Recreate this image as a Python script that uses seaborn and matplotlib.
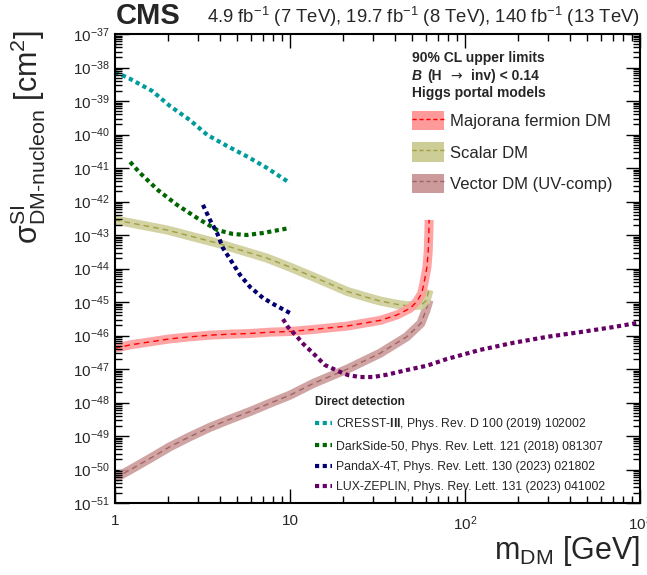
import numpy as np
import pandas as pd
import matplotlib
matplotlib.use("Agg")
import matplotlib.pyplot as plt
import seaborn as sns
from matplotlib.patches import Patch
from matplotlib.lines import Line2D

# ---- data (log10 of cross section in cm^2) ----
cresst_m = [1.0, 1.22, 1.63, 2.06, 2.68, 3.36, 4.36, 5.75, 7.39, 10.0]
cresst_xs = [-38.13, -38.34, -38.70, -39.15, -39.57, -40.01, -40.34, -40.67, -41.00, -41.45]

darkside_m = [1.22, 1.39, 1.76, 2.26, 2.94, 3.83, 4.72, 5.68, 7.01, 10.0]
darkside_xs = [-40.82, -41.15, -41.66, -42.10, -42.49, -42.85, -42.97, -43.00, -42.94, -42.79]

pandax_m = [3.18, 3.49, 3.83, 4.14, 4.66, 5.18, 5.91, 7.01, 8.21, 10.0]
pandax_xs = [-42.10, -42.55, -42.94, -43.39, -43.81, -44.19, -44.55, -44.88, -45.09, -45.33]

lz_m = [9.12, 9.74, 11.0, 11.9, 13.5, 15.8, 18.6, 21.4, 25.1, 29.8, 35.8, 46.6, 60.7,
        78.9, 122, 188, 294, 454, 701, 1000]
lz_xs = [-45.51, -45.75, -46.04, -46.25, -46.52, -46.88, -47.05, -47.18, -47.24, -47.24,
         -47.17, -47.03, -46.90, -46.70, -46.43, -46.22, -46.04, -45.90, -45.75, -45.61]

majorana_m = [1.0, 1.22, 1.585, 2.06, 2.68, 3.49, 4.54, 5.91, 7.69, 10.0, 13.6, 21.1,
              32.7, 40.7, 48.5, 53.0, 56.6, 58.3, 60.6, 61.6, 62.1, 62.4]
majorana_xs = [-46.38, -46.28, -46.19, -46.10, -46.04, -45.99, -45.96, -45.94, -45.90,
               -45.88, -45.82, -45.72, -45.55, -45.39, -45.19, -44.99, -44.74, -44.44,
               -43.96, -43.50, -43.00, -42.55]

scalar_m = [1.0, 1.98, 3.83, 7.39, 10.0, 13.6, 17.6, 21.1, 27.5, 32.7, 40.9, 46.4,
            55.9, 59.9, 62.3]
scalar_xs = [-42.55, -42.85, -43.24, -43.69, -43.96, -44.25, -44.50, -44.68, -44.86,
             -44.97, -45.07, -45.11, -45.10, -44.96, -44.64]

vector_m = [1.0, 1.22, 1.585, 2.06, 2.68, 3.49, 4.54, 5.91, 7.69, 10.0, 13.6, 21.1,
            32.7, 46.4, 55.9, 59.9, 62.3]
vector_xs = [-50.26, -50.01, -49.67, -49.32, -49.02, -48.74, -48.50, -48.27, -48.02,
             -47.78, -47.43, -47.01, -46.53, -46.04, -45.64, -45.24, -44.94]

xticks = [1, 10, 100, 1000]
xtick_labels = ["1", "10", "$10^{2}$", "$10^{3}$"]

hp_labels = ["Majorana fermion DM", "Scalar DM", "Vector DM (UV-comp)"]
dd_labels = ["CRESST-$\\mathbf{III}$, Phys. Rev. D 100 (2019) 102002",
             "DarkSide-50, Phys. Rev. Lett. 121 (2018) 081307",
             "PandaX-4T, Phys. Rev. Lett. 130 (2023) 021802",
             "LUX-ZEPLIN, Phys. Rev. Lett. 131 (2023) 041002"]

sns.set_style("ticks")
plt.rcParams['font.family'] = ['Liberation Sans', 'DejaVu Sans']
plt.rcParams['mathtext.fontset'] = 'custom'
plt.rcParams['mathtext.rm'] = 'Liberation Sans'
plt.rcParams['mathtext.it'] = 'Liberation Sans:italic'
plt.rcParams['mathtext.bf'] = 'Liberation Sans:bold'
plt.rcParams['mathtext.default'] = 'regular'

W, H = 647, 575
pos = [115 / W, 1 - 503 / H, 525 / W, 469 / H]
fig = plt.figure(figsize=(W / 100, H / 100), dpi=100)
ax = fig.add_axes(pos)
ax.set_xscale("log")
ax.set_yscale("log")

# Higgs portal bands
bands = [
    (vector_m, vector_xs, "#cc9a9a", "#a06464"),
    (scalar_m, scalar_xs, "#cdcd98", "#a0a040"),
    (majorana_m, majorana_xs, "#ff9a9a", "#ff0000"),
]
for m, xs, fc, lc in bands:
    df = pd.DataFrame({"m": m, "xs": 10.0 ** np.array(xs)})
    sns.lineplot(data=df, x="m", y="xs", ax=ax, color=fc, lw=6.5,
                 solid_capstyle="butt", solid_joinstyle="round", alpha=0.9)
    sns.lineplot(data=df, x="m", y="xs", ax=ax, color=lc, lw=1.0,
                 linestyle=(0, (4, 3)))

# direct detection curves
dot = (0, (1, 0.85))
dd = [
    (cresst_m, cresst_xs, "#009c9c"),
    (darkside_m, darkside_xs, "#006600"),
    (pandax_m, pandax_xs, "#000070"),
    (lz_m, lz_xs, "#660066"),
]
for m, xs, c in dd:
    df = pd.DataFrame({"m": m, "xs": 10.0 ** np.array(xs)})
    sns.lineplot(data=df, x="m", y="xs", ax=ax, color=c, lw=3.0, linestyle=dot)

ax.set_xlim(1, 1000)
ax.set_ylim(1e-51, 1e-37)
ax.set_xticks(xticks, labels=xtick_labels)
ax.set_yticks(10.0 ** np.arange(-51, -36))
ax.minorticks_off()
ax.tick_params(which="major", direction="in", top=True, right=True, width=1,
               color="black", length=10, labelsize=11)
ax.tick_params(axis="x", which="major", pad=8)
ax.tick_params(axis="y", which="major", pad=4)
for s in ax.spines.values():
    s.set_linewidth(1.5)
    s.set_color("black")

ax.set_xlabel("m$_{DM}$ [GeV]", fontsize=22, loc="right")
ax.xaxis.set_label_coords(1.0, -(568 - 503) / 469)
ax.xaxis.label.set_va("bottom")
ax.set_ylabel("$σ^{SI}_{DM\\text{-}nucleon}$ [cm$^{2}$]", fontsize=22, loc="top")
ax.yaxis.set_label_coords(-(115 - 48) / 525, 1.008)

# header
fig.text(116 / W, 1 - 16 / H, "CMS", fontsize=21, fontweight="bold", va="center")
fig.text(640 / W, 1 - 17 / H,
         "4.9 fb$^{-1}$ (7 TeV), 19.7 fb$^{-1}$ (8 TeV), 140 fb$^{-1}$ (13 TeV)",
         fontsize=13.3, ha="right", va="center")

# Higgs portal legend
fig.text(412 / W, 1 - 58 / H, "90% CL upper limits", fontsize=10, fontweight="bold", va="center")
fig.text(412 / W, 1 - 76 / H, "B", fontsize=10, fontweight="bold", style="italic", va="center")
fig.text(427 / W, 1 - 76 / H, "(H", fontsize=10, fontweight="bold", va="center")
fig.text(450 / W, 1 - 76 / H, "→", fontsize=10, family="DejaVu Sans", va="center")
fig.text(471 / W, 1 - 76 / H, "inv) < 0.14", fontsize=10, fontweight="bold", va="center")
fig.text(412 / W, 1 - 93 / H, "Higgs portal models", fontsize=10, fontweight="bold", va="center")

hp_handles = [(Patch(facecolor=fc, edgecolor="none"),
               Line2D([], [], color=lc, lw=1.0, linestyle=(0, (3, 2))))
              for _, _, fc, lc in reversed(bands)]
leg1 = ax.legend(hp_handles, hp_labels, loc="upper left",
                 bbox_to_anchor=(412 / W, 1 - 111 / H), bbox_transform=fig.transFigure,
                 frameon=False, fontsize=12, handlelength=1.9, handleheight=1.4,
                 labelspacing=0.73, handletextpad=0.4, borderpad=0, borderaxespad=0)
ax.add_artist(leg1)

dd_handles = [Line2D([], [], color=c, lw=3.0, linestyle=dot) for _, _, c in dd]
leg2 = ax.legend(dd_handles, dd_labels, loc="upper left",
                 bbox_to_anchor=(315 / W, 1 - 396 / H), bbox_transform=fig.transFigure,
                 frameon=False, fontsize=8.85, handlelength=1.4, handletextpad=0.3,
                 labelspacing=0.68, borderpad=0, borderaxespad=0,
                 title="Direct detection", alignment="left",
                 title_fontproperties={"weight": "bold", "size": 8.6})

# overlay axes carrying the short 2..9 ticks as its own (major) ticks, all four sides
ax2 = fig.add_axes(pos, frameon=False, zorder=ax.get_zorder() + 1)
ax2.patch.set_visible(False)
ax2.set_xscale("log")
ax2.set_yscale("log")
ax2.set_xlim(1, 1000)
ax2.set_ylim(1e-51, 1e-37)
ax2.set_xticks([k * 10.0 ** e for e in range(0, 3) for k in range(2, 10)])
ax2.set_yticks([k * 10.0 ** e for e in range(-51, -37) for k in range(2, 10)])
ax2.minorticks_off()
ax2.tick_params(which="major", direction="in", length=5, width=1, color="black",
                top=True, bottom=True, left=True, right=True,
                labelbottom=False, labelleft=False, labeltop=False, labelright=False)

fig.savefig("out.png", dpi=100)
